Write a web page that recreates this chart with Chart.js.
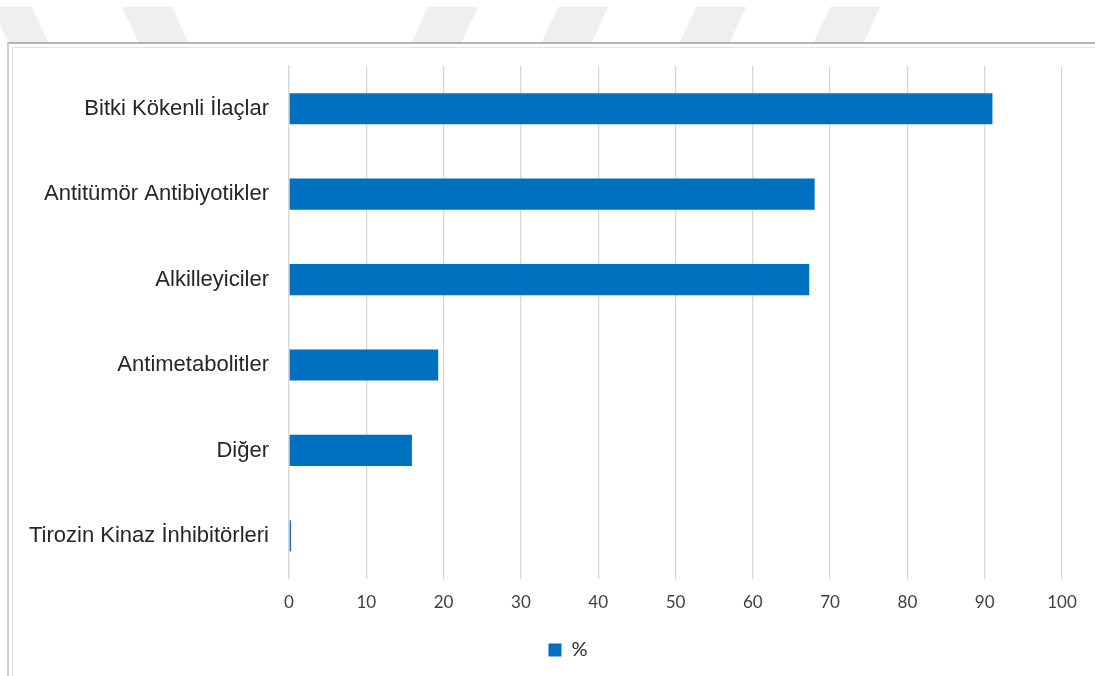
<!DOCTYPE html>
<html>
<head>
<meta charset="utf-8">
<script src="https://cdn.jsdelivr.net/npm/chart.js@4"></script>
<style>
  html, body { margin: 0; padding: 0; background: #fff; }
  #wrap { position: relative; width: 1095px; height: 676px; overflow: hidden; }
  .stripe { position: absolute; top: 7px; height: 35px; width: 50px; background: #efefef; }
  .frame1 { position: absolute; left: 7px; top: 42px; right: 0; bottom: 0; border-top: 2px solid #b4b4b4; border-left: 2px solid #d0d0d0; }
  .frame2 { position: absolute; left: 12px; top: 47px; right: 0; bottom: 0; border-top: 1px solid #e2e2e2; border-left: 1px solid #e2e2e2; }
  canvas { position: absolute; left: 0; top: 0; }
</style>
</head>
<body>
<div id="wrap">
  <div class="stripe" style="left:0px;transform:skewX(25deg);width:40px"></div>
  <div class="stripe" style="left:130px;transform:skewX(25deg)"></div>
  <div class="stripe" style="left:420px;transform:skewX(-25deg)"></div>
  <div class="stripe" style="left:550px;transform:skewX(-25deg)"></div>
  <div class="stripe" style="left:688px;transform:skewX(-25deg)"></div>
  <div class="stripe" style="left:822px;transform:skewX(-25deg)"></div>
  <div class="frame1"></div>
  <div class="frame2"></div>
  <canvas id="BarChart" width="1095" height="676"></canvas>
</div>
<script>
(function () {
  "use strict";

  // Data
  const categories = ['Bitki Kökenli İlaçlar', 'Antitümör Antibiyotikler', 'Alkilleyiciler', 'Antimetabolitler', 'Diğer', 'Tirozin Kinaz İnhibitörleri'];
  const percentValues = [91.0, 68.0, 67.3, 19.3, 15.9, 0.25];
  const seriesLabel = '%';

  // Colors
  const bar_blue = '#0070C0';
  const grid_gray = '#d9d9d9';

  // shift the legend a bit to the right, like the original
  const legendShift = {
    id: 'legendShift',
    afterLayout: function (chart) {
      if (chart.legend) { chart.legend.left += 74; }
    }
  };

  const ctx = document.getElementById('BarChart').getContext('2d');
  new Chart(ctx, {
    type: 'bar',
    data: {
      labels: categories,
      datasets: [{
        label: seriesLabel,
        data: percentValues,
        backgroundColor: bar_blue,
        borderWidth: 0,
        barPercentage: 0.73,
        categoryPercentage: 0.5
      }]
    },
    options: {
      indexAxis: 'y',
      responsive: false,
      animation: false,
      layout: {
        padding: { left: 0, right: 33, top: 66, bottom: 6 }
      },
      scales: {
        x: {
          min: 0,
          max: 100,
          ticks: {
            stepSize: 10,
            color: '#404040',
            padding: 14,
            font: { family: 'Lato', size: 17 }
          },
          grid: { color: grid_gray, lineWidth: 1.3, drawTicks: false },
          border: { display: false }
        },
        y: {
          afterFit: function (scale) { scale.width = 289; },
          ticks: {
            color: '#262626',
            padding: 20,
            font: { family: 'Liberation Sans', size: 22 }
          },
          grid: { display: false, drawTicks: false },
          border: { color: grid_gray, width: 1.3 }
        }
      },
      plugins: {
        legend: {
          position: 'bottom',
          labels: {
            boxWidth: 13,
            boxHeight: 13,
            padding: 13,
            color: '#262626',
            font: { family: 'Lato', size: 20 }
          }
        },
        tooltip: { enabled: false }
      }
    },
    plugins: [legendShift]
  });
})();
</script>
</body>
</html>
